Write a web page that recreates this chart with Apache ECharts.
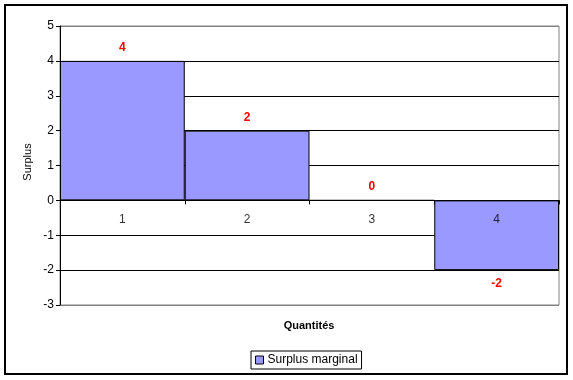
<!DOCTYPE html>
<html><head><meta charset="utf-8">
<script src="https://cdn.jsdelivr.net/npm/echarts@6/dist/echarts.min.js"></script>
<style>html,body{margin:0;padding:0;background:#fff}#c{width:573px;height:380px}</style>
</head><body><div id="c"></div>
<script>
const categories = ['1','2','3','4'];
const surplusValues = [4, 2, 0, -2];
const seriesName = 'Surplus marginal';
const yMin = -3, yMax = 5, yStep = 1;

const chart = echarts.init(document.getElementById('c'), null, {renderer:'canvas'});
const font = 'Arial, "Liberation Sans", sans-serif';
const nLines = (yMax - yMin) / yStep + 1;
const splitColors = [];
for (let i = 0; i < nLines; i++) splitColors.push(i === 0 || i === nLines - 1 ? '#808080' : '#000000');

chart.setOption({
  animation: false,
  backgroundColor: '#fff',
  grid: {left: 60, right: 14, top: 26, bottom: 75, show: true, borderColor: '#808080', borderWidth: 1, backgroundColor: '#fff'},
  xAxis: {
    type: 'category', data: categories, z: 5,
    axisLine: {onZero: true, lineStyle: {color: '#000', width: 1}},
    axisTick: {show: true, length: 4, alignWithLabel: false, interval: 0, lineStyle: {color: '#000'}},
    axisLabel: {show: false},
    splitLine: {show: false}
  },
  yAxis: {
    type: 'value', min: yMin, max: yMax, interval: yStep,
    axisLine: {show: true, lineStyle: {color: '#000', width: 1}},
    axisTick: {show: true, length: 4, lineStyle: {color: '#000'}},
    axisLabel: {color: '#000', fontFamily: font, fontSize: 12, margin: 6},
    splitLine: {show: true, lineStyle: {color: splitColors, width: 1}}
  },
  legend: {
    data: [{name: seriesName, icon: 'rect'}],
    left: 251, top: 351, itemWidth: 8, itemHeight: 8, itemGap: 4,
    borderColor: '#000', borderWidth: 1, padding: [3, 4, 3, 4],
    textStyle: {color: '#000', fontFamily: font, fontSize: 12, padding: [0,0,0,-1]},
    itemStyle: {borderColor: '#000', borderWidth: 1}
  },
  graphic: [
    {type: 'rect', shape: {x: 5, y: 5, width: 562, height: 369}, style: {fill: 'none', stroke: '#000', lineWidth: 2}, silent: true, z: 100},
    {type: 'text', x: 309, y: 326, style: {text: 'Quantités', font: 'bold 11px ' + font, fill: '#000', align: 'center', verticalAlign: 'middle'}},
    {type: 'text', x: 28, y: 162, rotation: Math.PI/2, style: {text: 'Surplus', font: '11px ' + font, fill: '#000', align: 'center', verticalAlign: 'middle'}}
  ],
  series: [{
    name: seriesName, type: 'bar', barCategoryGap: '0%', barGap: '0%',
    data: surplusValues.map(v => ({value: v, label: {position: v < 0 ? 'bottom' : 'top', distance: v < 0 ? 8 : 7}})),
    itemStyle: {color: '#9999FF', borderColor: '#000', borderWidth: 1},
    label: {show: true, color: '#FF0000', fontWeight: 'bold', fontFamily: font, fontSize: 12}
  }, {
    name: 'categoryLabels', type: 'scatter', symbol: 'circle', symbolSize: 1, z: 6, silent: true,
    itemStyle: {color: 'rgba(0,0,0,0)'},
    data: categories.map(c => [c, 0]),
    label: {show: true, position: 'bottom', distance: 13, color: '#000', fontFamily: font, fontSize: 12,
            formatter: p => p.value[0]}
  }]
});
</script></body></html>
